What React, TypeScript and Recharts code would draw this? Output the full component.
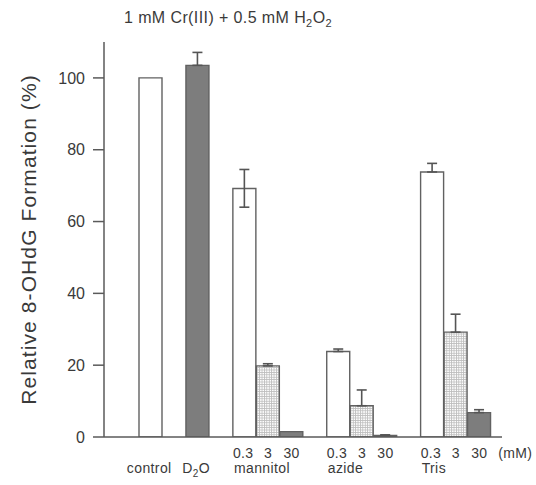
import React from "react";
import { BarChart, Bar, XAxis, YAxis, ErrorBar, Cell } from "recharts";

// slot labels (empty = spacer slot)
const doseLabels = ["", "", "", "", "0.3", "3", "30", "", "0.3", "3", "30", "", "0.3", "3", "30"];
const groupLabels = ["control", "", "D2O", "", "mannitol", "", "", "", "azide", "", "", "", "Tris", "", ""];
const values = [100, null, 103.5, null, 69.2, 19.8, 1.5, null, 23.8, 8.7, 0.4, null, 73.8, 29.2, 6.8];
const errLow = [null, null, 0, null, 5.2, 0, null, null, 0, 0, 0, null, 0, 0, 0];
const errHigh = [null, null, 3.6, null, 5.3, 0.6, null, null, 0.7, 4.4, 0.2, null, 2.4, 5.0, 0.8];
const fillKinds = ["open", "", "dark", "", "open", "dots", "dark", "", "open", "dots", "dark", "", "open", "dots", "dark"];
const yTicks = [0, 20, 40, 60, 80, 100];

const data = values.map((v, i) => ({
  id: "s" + i,
  value: v,
  err: errHigh[i] === null ? undefined : [errLow[i], errHigh[i]],
}));

const FONT = "'Liberation Sans', Arial, Helvetica, sans-serif";
const TEXT = "#3a3a3a";
const LINE = "#5a5a5a";

const fillFor = (k: string) =>
  k === "dark" ? "#7d7d7d" : k === "dots" ? "url(#stipple)" : "#ffffff";

const XTick = (props: any) => {
  const { x, y, payload } = props;
  const i = payload.index;
  const half = 11.7;
  const dose = doseLabels[i];
  const group = groupLabels[i];
  const out: React.ReactNode[] = [];
  if (dose) {
    const isFirst = dose === "0.3";
    out.push(
      <text key="d" x={isFirst ? x - half : x} y={y + 21} textAnchor={isFirst ? "start" : "middle"}
        fontSize={14} letterSpacing={0.3} fill={TEXT} fontFamily={FONT}>{dose}</text>
    );
  }
  if (i === doseLabels.length - 1) {
    out.push(
      <text key="mm" x={x + 19} y={y + 21} textAnchor="start" fontSize={14} letterSpacing={0.3} fill={TEXT} fontFamily={FONT}>(mM)</text>
    );
  }
  if (group) {
    const centered = !dose;
    const content = group === "D2O" ? (
      <>
        D<tspan fontSize={10} dy={4}>2</tspan><tspan dy={-4}>O</tspan>
      </>
    ) : group;
    out.push(
      <text key="g" x={centered ? x - 1.5 : x - half + 1} y={y + 36} textAnchor={centered ? "middle" : "start"}
        fontSize={14} letterSpacing={0.4} fill={TEXT} fontFamily={FONT}>{content}</text>
    );
  }
  return <g>{out}</g>;
};

const YLabel = (props: any) => {
  const vb = props.viewBox || {};
  const cy = (vb.y ?? 42) + (vb.height ?? 395) / 2;
  return (
    <text x={36} y={cy} transform={`rotate(-90, 36, ${cy})`} textAnchor="middle"
      fontSize={21} letterSpacing={1.1} fill={TEXT} fontFamily={FONT}>
      Relative 8-OHdG Formation (%)
    </text>
  );
};

export default function App() {
  return (
    <div style={{ position: "absolute", left: 0, top: 0, width: 536, height: 485, background: "#fff" }}>
      <svg width={536} height={40} style={{ position: "absolute", left: 0, top: 0 }}>
        <text x={228} y={23} textAnchor="middle" fontSize={16} letterSpacing={0.4} fill={TEXT} fontFamily={FONT}>
          1 mM Cr(III) + 0.5 mM H<tspan fontSize={11} dy={4}>2</tspan><tspan dy={-4}>O</tspan><tspan fontSize={11} dy={4}>2</tspan>
        </text>
      </svg>
      <div style={{ position: "absolute", left: 0, top: 0 }}>
        <BarChart width={536} height={485} data={data}
          margin={{ top: 42, right: 34, left: 0, bottom: 0 }}
          barCategoryGap={0} barGap={0}>
          <defs>
            <pattern id="stipple" width={2.4} height={2.4} patternUnits="userSpaceOnUse">
              <rect width={2.4} height={2.4} fill="#ffffff" />
              <path d="M0 0.4 H2.4 M0.4 0 V2.4" stroke="#bdbdbd" strokeWidth={0.9} />
            </pattern>
          </defs>
          <XAxis dataKey="id" type="category" padding={{ left: 35, right: 11 }}
            axisLine={{ stroke: LINE, strokeWidth: 1.5 }} tickLine={false} tickSize={0} tickMargin={0}
            interval={0} tick={<XTick />} height={48} />
          <YAxis type="number" domain={[0, 110]} ticks={yTicks} width={104}
            axisLine={{ stroke: LINE, strokeWidth: 1.5 }} tickLine={{ stroke: LINE, strokeWidth: 1.5 }}
            tickSize={11} tickMargin={8} allowDataOverflow
            tick={{ fontSize: 16, fill: TEXT, fontFamily: FONT }}
            label={<YLabel />} />
          <Bar dataKey="value" isAnimationActive={false} stroke="#616161" strokeWidth={1.4}>
            {fillKinds.map((k, i) => (
              <Cell key={i} fill={fillFor(k)} />
            ))}
            <ErrorBar dataKey="err" width={5} stroke="#555" strokeWidth={1.6} direction="y" />
          </Bar>
        </BarChart>
      </div>
    </div>
  );
}
